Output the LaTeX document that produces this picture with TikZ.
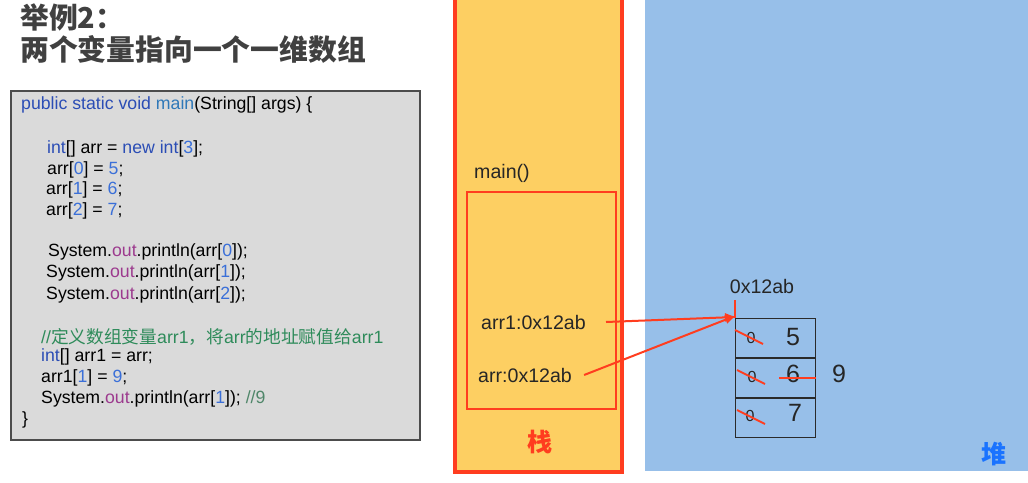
\documentclass[tikz,border=0pt]{standalone}
\usepackage{fontspec}
\setmainfont{Liberation Sans}
\newfontfamily\cjk{Noto Sans CJK SC}
\usetikzlibrary{arrows.meta}
\definecolor{kw}{HTML}{2B4DB5}
\definecolor{fn}{HTML}{2F78B8}
\definecolor{numc}{HTML}{3A6FD8}
\definecolor{outc}{HTML}{9C3A8E}
\definecolor{cmt}{HTML}{2E8B5A}
\definecolor{stackfill}{HTML}{FDCF62}
\definecolor{stackred}{HTML}{FF3D1F}
\definecolor{heapfill}{HTML}{97BFE9}
\definecolor{heapblue}{HTML}{1A73FF}
\definecolor{codebg}{HTML}{DADADA}
\definecolor{titlec}{HTML}{404040}
\definecolor{cellline}{HTML}{2A2A2A}
\newcommand{\cK}[1]{\textcolor{kw}{#1}}
\newcommand{\cF}[1]{\textcolor{fn}{#1}}
\newcommand{\cN}[1]{\textcolor{numc}{#1}}
\newcommand{\cO}[1]{\textcolor{outc}{#1}}
\begin{document}
\begin{tikzpicture}[x=1pt,y=-1pt,
  code/.style={anchor=west, inner sep=0, font=\fontsize{17.7}{20}\selectfont},
  title/.style={anchor=west, inner sep=0, text=titlec, font=\fontsize{28.8}{32}\selectfont\cjk\bfseries},
  lbl/.style={anchor=west, inner sep=0, font=\fontsize{19.6}{22}\selectfont, text=black!85},
  cell/.style={draw=cellline, line width=1pt, minimum width=80pt, minimum height=39pt, inner sep=0, anchor=north west},
  big/.style={inner sep=0, font=\fontsize{25}{28}\selectfont, text=black!85},
  small/.style={inner sep=0, font=\fontsize{16}{18}\selectfont, text=black!85},
  redline/.style={draw=stackred, line width=2pt},
  strike/.style={draw=stackred, line width=1.8pt}]
\useasboundingbox (0,0) rectangle (1028,482);
\fill[white] (0,0) rectangle (1028,482);

% title
\node[title] (t1) at (20,17) {举例2：};
\node[title] (t2) at (20,49) {两个变量指向一个一维数组};

% code box
\draw[fill=codebg, draw=black!70, line width=1.2pt] (11,91) rectangle (420,440);
\node[code] (l1) at (21,105) {\cK{public static void} \cF{main}(String[] args) \{};
\node[code] (l2) at (47,149) {\cK{int}[] arr = \cK{new int}[\cN{3}];};
\node[code] (l3) at (47,170) {arr[\cN{0}] = \cN{5};};
\node[code] (l4) at (46,190) {arr[\cN{1}] = \cN{6};};
\node[code] (l5) at (46,211) {arr[\cN{2}] = \cN{7};};
\node[code] (l6) at (48,252) {System.\cO{out}.println(arr[\cN{0}]);};
\node[code] (l7) at (46,273) {System.\cO{out}.println(arr[\cN{1}]);};
\node[code] (l8) at (46,295) {System.\cO{out}.println(arr[\cN{2}]);};
\node[code, text=cmt] (l9) at (41,337) {//{\cjk 定义数组变量}arr1{\cjk ，将}arr{\cjk 的地址赋值给}arr1};
\node[code] (l10) at (41,357) {\cK{int}[] arr1 = arr;};
\node[code] (l11) at (41,378) {arr1[\cN{1}] = \cN{9};};
\node[code] (l12) at (41,399) {System.\cO{out}.println(arr[\cN{1}]); \textcolor{cmt!60!gray}{//9}};
\node[code] (l13) at (22,420) {\}};

% heap
\fill[heapfill] (645,-2) rectangle (1030,471);
\node[inner sep=0, text=heapblue, font=\fontsize{25}{27}\selectfont\cjk\bfseries] (heap) at (994,454) {堆};

% stack
\draw[fill=stackfill, draw=stackred, line width=4pt] (455,-6) rectangle (622,472);
\draw[draw=stackred, line width=1.8pt] (467,192) rectangle (616,409);
\node[lbl] (mainl) at (474,173) {main()};
\node[lbl] (a1) at (481,322) {arr1:0x12ab};
\node[lbl] (a0) at (478,375) {arr:0x12ab};
\node[inner sep=0, text=stackred, font=\fontsize{25}{27}\selectfont\cjk\bfseries] (stack) at (540,442) {栈};

% array
\node[cell] (c0) at (735,318) {};
\node[cell] (c1) at (c0.south west) {};
\node[cell] (c2) at (c1.south west) {};
\node[lbl, anchor=center] (addr) at (762,286) {0x12ab};
\coordinate (tick) at (735,300);
\draw[redline] (tick) -- (c0.north west);

\node[small] (z0) at (751,338) {0};
\node[small] (z1) at (752,377) {0};
\node[small] (z2) at (750,416) {0};
\node[big] (v0) at (793,337) {5};
\node[big] (v1) at (793,374) {6};
\node[big] (v2) at (795,413) {7};
\node[big] (v9) at (839,374) {9};

\draw[strike] ([shift={(0,12)}]c0.north west) -- ++(28,14);
\draw[strike] ([shift={(2,12)}]c1.north west) -- ++(28,14);
\draw[strike] ([shift={(2,12)}]c2.north west) -- ++(28,14);
\draw[strike] ([shift={(-37,0)}]c1.east) -- (c1.east);

% arrows
\draw[redline, -{Triangle[length=10pt,width=8pt]}] ([xshift=20pt]a1.east) -- ([yshift=1pt]c0.north west);
\draw[redline, -{Triangle[length=10pt,width=8pt]}] ([xshift=12pt]a0.east) -- ([yshift=2pt]c0.north west);
\end{tikzpicture}
\end{document}
